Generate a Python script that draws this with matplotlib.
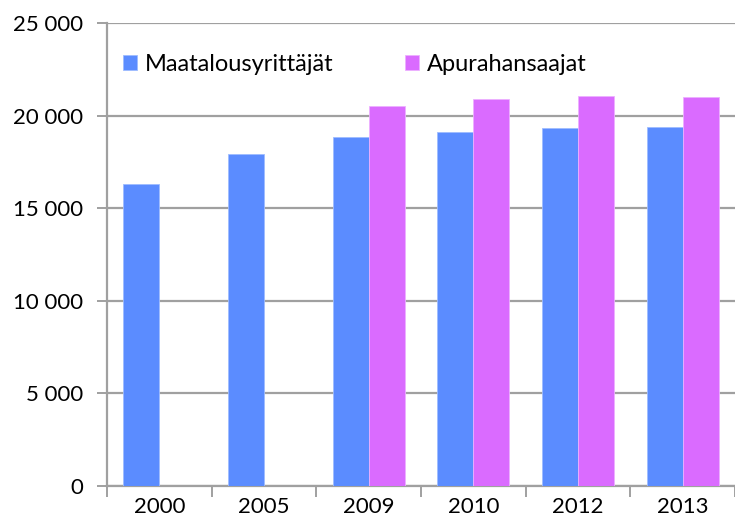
import matplotlib.pyplot as plt
import numpy as np

# data
years = ['2000', '2005', '2009', '2010', '2012', '2013']
maatalous = [16300, 17950, 18850, 19100, 19350, 19400]
apuraha = [np.nan, np.nan, 20500, 20900, 21050, 21000]
y_ticks = [0, 5000, 10000, 15000, 20000, 25000]

blue = '#5b8cff'
pink = '#da6bff'
grid_col = '#a0a0a0'

plt.rcParams['font.family'] = ['Lato', 'DejaVu Sans']

fig = plt.figure(figsize=(7.35, 5.3), dpi=100)
ax = fig.add_axes([0.1456, 0.083, 0.8544, 0.8735])

x = np.arange(len(years))
w = 0.343
ax.bar(x - w / 2, maatalous, w, color=blue, edgecolor='#9ebcff', linewidth=0.6,
       label='Maatalousyrittäjät', zorder=3)
ax.bar(x + w / 2, apuraha, w, color=pink, edgecolor='#ecb0ff', linewidth=0.6,
       label='Apurahansaajat', zorder=3)

ax.set_xlim(-0.5, len(years) - 0.5)
ax.set_ylim(0, 25000)
ax.set_yticks(y_ticks)
ax.set_yticklabels([f'{v:,}'.replace(',', ' ') for v in y_ticks])
ax.yaxis.grid(True, color=grid_col, linewidth=1.6, zorder=0)

# category labels centred, tick marks on the boundaries
ax.set_xticks(x)
ax.set_xticklabels(years)
ax.set_xticks(np.arange(len(years) + 1) - 0.5, minor=True)
ax.tick_params(axis='x', which='major', length=0, pad=8, labelsize=16)
ax.tick_params(axis='x', which='minor', length=8, width=1.4, color=grid_col)
ax.tick_params(axis='y', length=7, width=1.4, color=grid_col, pad=10, labelsize=16)

for s in ['top', 'right']:
    ax.spines[s].set_visible(False)
for s in ['left', 'bottom']:
    ax.spines[s].set_color(grid_col)
    ax.spines[s].set_linewidth(1.6)

ax.legend(loc='upper left', bbox_to_anchor=(0.025, 0.933), ncol=2, frameon=False,
          fontsize=17, handlelength=0.6, handleheight=0.6, handletextpad=0.35,
          columnspacing=3.0, borderpad=0, borderaxespad=0)

fig.savefig('out.png', dpi=100)
